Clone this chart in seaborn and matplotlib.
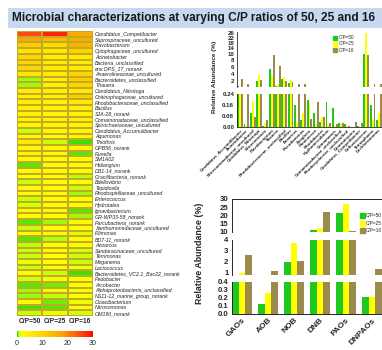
import numpy as np
import pandas as pd
import matplotlib
matplotlib.use('Agg')
import matplotlib.pyplot as plt
import seaborn as sns
from matplotlib.colors import LinearSegmentedColormap
from matplotlib.patches import Rectangle, Patch

sns.set_style('white')
plt.rcParams['font.family'] = ['Liberation Sans', 'DejaVu Sans']

# ---------------- data ----------------
ratios = ['C/P=50', 'C/P=25', 'C/P=16']
bar_colors = ['#1ec81e', '#ffff00', '#9c8a4c']

genera = ['Candidatus_Competibacter', 'Saprospiraceae_uncultured', 'Flavobacterium',
          'Cytophagaceae_uncultured', 'Acinetobacter', 'Bacteria_unclassified',
          'env.OPS_17_norank', 'Anaerolineaceae_uncultured', 'Bacteroidetes_unclassified',
          'Thauera', 'Candidatus_Nitrotoga', 'Chitinophagaceae_uncultured',
          'Rhodobacteraceae_unclassified', 'Bacillus', 'SJA-28_norank',
          'Comamonadaceae_unclassified', 'Spirochaetaceae_uncultured',
          'Candidatus_Accumulibacter', 'Aquimonas', 'Thiothrix', 'OPB56_norank',
          'Runella', 'SM1A02', 'Haliangium', 'DB1-14_norank', 'Gracilibacteria_norank',
          'Bdellovibrio', 'Tepidicella', 'Rhodospirillaceae_uncultured', 'Enterococcus',
          'Hydrotalea', 'Ignavibacterium', 'GR-WP33-58_norank', 'Parcubacteria_norank',
          'Xanthomonadaceae_uncultured', 'Filimonas', 'BD7-11_norank', 'Azoarcus',
          'Sandaracinaceae_uncultured', 'Terrimonas', 'Meganema', 'Lactococcus',
          'Bacteroidetes_VC2.1_Bac22_norank', 'Pedobacter', 'Arcobacter',
          'Alphaproteobacteria_unclassified', 'NS11-12_marine_group_norank',
          'Cloacibacterium', 'Nitrosomonas', 'OM190_norank']
hm50 = [25, 17, 11, 7, 9, 9, 9, 6, 0.6, 0.7, 5, 5, 5, 4, 4, 3, 3, 1.0, 3, 6, 3, 3, 2.5,
        0.3, 2, 2, 1.0, 2, 2, 1.0, 1.1, 2, 2, 0.3, 1.0, 2, 0.3, 0.9, 1.0, 1.0, 1.4, 1.0,
        2, 1.1, 0.3, 0.6, 0.7, 2, 0.2, 1.0]
hm25 = [28, 14, 8, 6, 5, 5, 5, 5, 4, 4, 4, 4, 4, 4, 3, 3, 3, 3, 2, 1.0, 3, 2, 2.5,
        2, 2, 2, 2, 2, 2, 2, 2, 2, 2, 0.7, 2, 2, 0.8, 1.6, 1.6, 1.6, 1.6, 1.6,
        1.0, 1.5, 0.4, 1.5, 1.0, 0.4, 0.3, 1.4]
hm16 = [16, 16, 15, 10, 5, 5, 5, 9, 11, 9, 5, 11, 5, 4, 4, 4, 3, 3, 3, 0.2, 3, 0.3, 2,
        2, 2, 0.9, 2, 1.0, 0.7, 2, 2, 0.3, 0.6, 2, 2, 1.2, 2, 2, 1.1, 1.0, 1.0, 1.5,
        0.2, 1.5, 2, 1.5, 1.5, 1.3, 1.6, 1.1]

func_taxa = ['Candidatus_Accumulibacter', 'Acinetobacter', 'Nitrosomonadaceae_uncultured',
             'Candidatus_Nitrotoga', 'Nitrosomonas', 'Flavobacterium', 'Thauera',
             'Rhodobacteraceae_unclassified', 'Bacillus', 'Azoarcus', 'Pseudomonas',
             'Zoogloea', 'Paracoccus', 'Rhodobacter', 'Hyphomicrobium', 'Comamonas',
             'Comamonadaceae_unclassified', 'Rhodocyclaceae_unclassified', 'Denitratisoma',
             'Candidatus_Competibacter', 'Defluviicoccus', 'Tetrasphaera', 'Dechloromonas']
func50 = [0.5, 0.02, 0.10, 2.0, 0.01, 5.5, 0.5, 2.5, 1.5, 0.16, 0.05, 0.20, 0.10, 0.04,
          0.18, 0.14, 0.03, 0.02, 0.0, 0.01, 10.0, 0.16, 0.05]
func25 = [0.25, 0.01, 0.19, 3.8, 0.03, 3.5, 1.2, 3.2, 2.2, 0.03, 0.10, 0.18, 0.02, 0.07,
          0.02, 0.01, 0.02, 0.01, 0.0, 0.0, 26.0, 0.05, 0.10]
func16 = [2.6, 1.0, 0.07, 2.2, 0.05, 9.5, 6.3, 2.0, 1.8, 1.0, 1.1, 0.06, 0.18, 0.07,
          0.03, 0.02, 0.03, 0.01, 0.04, 0.03, 9.5, 1.0, 1.0]

groups = ['GAOs', 'AOB', 'NOB', 'DNB', 'PAOs', 'DNPAOs']
grp50 = [0.55, 0.13, 2.0, 11.0, 21.2, 0.21]
grp25 = [0.95, 0.26, 3.7, 11.9, 26.6, 0.21]
grp16 = [2.6, 1.2, 2.1, 21.9, 10.2, 1.35]

# ---------------- figure ----------------
W, H = 382, 350
fig = plt.figure(figsize=(W / 100, H / 100), dpi=100)


def box(x0, y0, x1, y1):
    return [x0 / W, 1 - y1 / H, (x1 - x0) / W, (y1 - y0) / H]


# title bar
fig.patches.append(Rectangle((8 / W, 1 - 28 / H), 1 - 8 / W, 20 / H,
                             transform=fig.transFigure, facecolor='#c6d9f1',
                             edgecolor='none', zorder=0))
fig.text(12 / W, 1 - 18.5 / H,
         'Microbial characterizations at varying C/P ratios of 50, 25 and 16',
         fontsize=8.6, fontweight='bold', color='#1a1a1a', va='center', ha='left')

# ---------------- heatmap ----------------
hm = pd.DataFrame({ratios[0]: hm50, ratios[1]: hm25, ratios[2]: hm16}, index=genera)
cmap = LinearSegmentedColormap.from_list('gyr', [
    (0.0, '#22dd00'), (0.022, '#a8ff10'), (0.05, '#ffff00'), (0.33, '#ffd200'),
    (0.6, '#ffa000'), (0.82, '#ff5010'), (1.0, '#ff0a00')])
ax_h = fig.add_axes(box(17, 31, 93, 316))
cax = fig.add_axes(box(17, 331, 93, 337))
sns.heatmap(hm, ax=ax_h, cmap=cmap, vmin=0, vmax=30, linewidths=0.25,
            linecolor='#c2aa28', cbar_ax=cax,
            cbar_kws={'orientation': 'horizontal', 'ticks': [0, 10, 20, 30]})
ax_h.yaxis.tick_right()
ax_h.set_yticks(np.arange(len(genera)) + 0.5)
ax_h.set_yticklabels(genera, fontsize=3.8, style='italic', rotation=0, ha='left')
ax_h.set_xticklabels(ratios, fontsize=4.8, fontweight='bold', rotation=0)
ax_h.tick_params(axis='both', length=0, pad=1.5)
ax_h.set_xlabel('')
ax_h.set_ylabel('')
cax.tick_params(labelsize=5, length=0, pad=2)
for s in cax.spines.values():
    s.set_visible(False)


def long_df(cats, a, b, c):
    rows = []
    for name, vals in zip(ratios, (a, b, c)):
        for cat, v in zip(cats, vals):
            rows.append({'cat': cat, 'ratio': name, 'val': v})
    return pd.DataFrame(rows)


# ---------------- top-right broken bar chart ----------------
dfa = long_df(func_taxa, func50, func25, func16)
K = 0.38


def fwd(v):
    v = np.asarray(v, dtype=float)
    return np.where(v <= 10, v, 10 + (v - 10) * K)


def inv(u):
    u = np.asarray(u, dtype=float)
    return np.where(u <= 10, u, 10 + (u - 10) / K)


ax_up = fig.add_axes(box(237, 32, 382, 87))
ax_lo = fig.add_axes(box(237, 94, 382, 127))
for ax in (ax_up, ax_lo):
    sns.barplot(data=dfa, x='cat', y='val', hue='ratio', palette=bar_colors,
                saturation=1, width=0.92, linewidth=0, legend=False, ax=ax)
    ax.set_xlim(-0.5, len(func_taxa) - 0.5)
    ax.set_xlabel('')
    ax.set_ylabel('')
    for side in ('top', 'right'):
        ax.spines[side].set_visible(False)
    ax.spines['left'].set_linewidth(0.6)
    ax.tick_params(axis='y', labelsize=4.4, length=1.2, width=0.5, pad=0.8)
ax_up.set_yscale('function', functions=(fwd, inv))
ax_up.set_ylim(0.25, 26.5)
ax_up.set_yticks([2, 4, 6, 8, 10, 14, 18, 22, 26])
ax_up.set_yticklabels(['2', '4', '6', '8', '10', '14', '18', '22', '26'])
ax_up.spines['bottom'].set_visible(False)
ax_up.set_xticks([])
ax_lo.set_ylim(0, 0.24)
ax_lo.set_yticks([0, 0.08, 0.16, 0.24])
ax_lo.set_yticklabels(['0.00', '0.08', '0.16', '0.24'])
ax_lo.spines['bottom'].set_linewidth(0.6)
ax_lo.set_xticks(range(len(func_taxa)))
ax_lo.set_xticklabels(func_taxa, rotation=45, ha='right', rotation_mode='anchor',
                      fontsize=3.2, fontweight='bold')
ax_lo.tick_params(axis='x', length=0, pad=1)
for ax in (ax_up, ax_lo):
    for t in ax.get_yticklabels():
        t.set_fontweight('bold')
fig.text(215 / W, 1 - 77 / H, 'Relative Abundance (%)', rotation=90, fontsize=4.6,
         fontweight='bold', ha='center', va='center')
ax_up.legend(handles=[Patch(color=c, label=r) for c, r in zip(bar_colors, ratios)],
             loc='upper left', bbox_to_anchor=(0.64, 1.0), frameon=False,
             fontsize=3.3, handlelength=0.8, handleheight=0.9, handletextpad=0.4,
             labelspacing=0.25, borderpad=0.2)

# ---------------- bottom-right three-segment bar chart ----------------
dfb = long_df(groups, grp50, grp25, grp16)
ax_t = fig.add_axes(box(232, 199, 382, 232))
ax_m = fig.add_axes(box(232, 240, 382, 275))
ax_b = fig.add_axes(box(232, 282, 382, 314))
for ax in (ax_t, ax_m, ax_b):
    sns.barplot(data=dfb, x='cat', y='val', hue='ratio', palette=bar_colors,
                saturation=1, width=0.78, linewidth=0, legend=False, ax=ax)
    ax.set_xlim(-0.39, 5.39)
    ax.set_xlabel('')
    ax.set_ylabel('')
    ax.spines['right'].set_visible(False)
    ax.spines['left'].set_linewidth(0.7)
    ax.tick_params(axis='y', labelsize=5.6, length=1.5, width=0.6, pad=1)
ax_t.set_ylim(9.5, 30)
ax_t.set_yticks([10, 15, 20, 25, 30])
ax_t.spines['bottom'].set_visible(False)
ax_t.spines['top'].set_linewidth(0.7)
ax_m.set_ylim(0.8, 4.0)
ax_m.set_yticks([1, 2, 3, 4])
ax_m.spines['bottom'].set_visible(False)
ax_m.spines['top'].set_visible(False)
ax_b.set_ylim(0, 0.4)
ax_b.set_yticks([0, 0.1, 0.2, 0.3, 0.4])
ax_b.set_yticklabels(['0.0', '0.1', '0.2', '0.3', '0.4'])
ax_b.spines['top'].set_visible(False)
ax_b.spines['bottom'].set_linewidth(0.7)
for ax in (ax_t, ax_m):
    ax.set_xticks([])
ax_b.set_xticks(range(len(groups)))
ax_b.set_xticklabels(groups, rotation=45, ha='right', rotation_mode='anchor',
                     fontsize=6, fontweight='bold')
ax_b.tick_params(axis='x', length=0, pad=2)
for ax in (ax_t, ax_m, ax_b):
    for t in ax.get_yticklabels():
        t.set_fontweight('bold')
fig.text(200 / W, 1 - 253 / H, 'Relative Abundance (%)', rotation=90, fontsize=6.4,
         fontweight='bold', ha='center', va='center')
fig.legend(handles=[Patch(color=c, label=r) for c, r in zip(bar_colors, ratios)],
           loc='upper left', bbox_to_anchor=(358 / W, 1 - 211 / H), frameon=False,
           fontsize=3.4, handlelength=0.9, handleheight=1.2, handletextpad=0.3,
           labelspacing=0.5, borderpad=0.0)

fig.savefig('out.png', dpi=100)
